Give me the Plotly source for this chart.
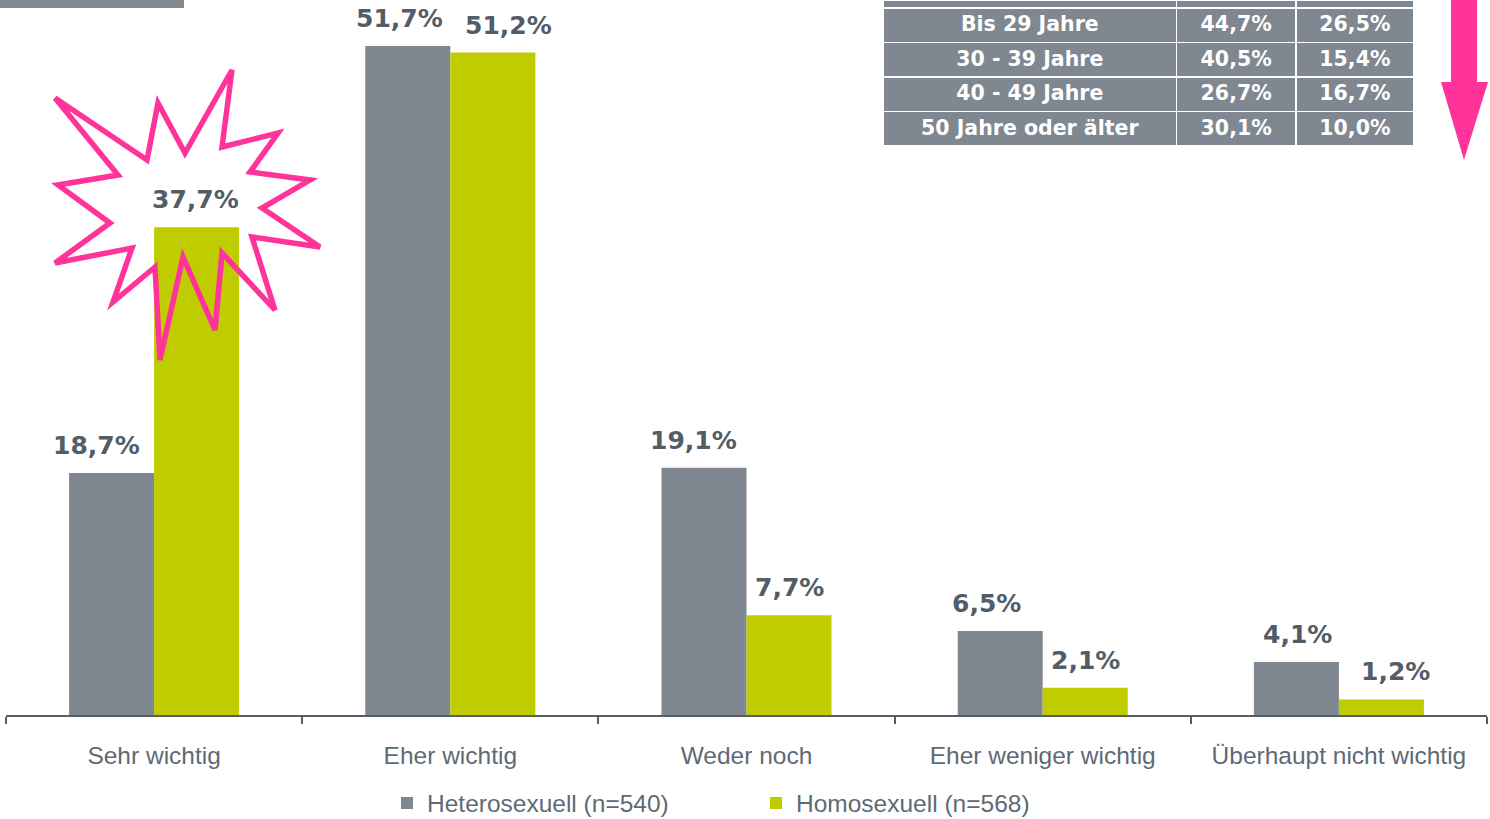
import plotly.graph_objects as go

# ---------------- data ----------------
categories = ["Sehr wichtig", "Eher wichtig", "Weder noch",
              "Eher weniger wichtig", "Überhaupt nicht wichtig"]
hetero = [18.7, 51.7, 19.1, 6.5, 4.1]
homo = [37.7, 51.2, 7.7, 2.1, 1.2]
series_names = ["Heterosexuell (n=540)", "Homosexuell (n=568)"]

age_groups = ["Bis 29 Jahre", "30 - 39 Jahre", "40 - 49 Jahre", "50 Jahre oder älter"]
age_hetero = [44.7, 40.5, 26.7, 30.1]
age_homo = [26.5, 15.4, 16.7, 10.0]

# ---------------- style ----------------
GRAY = "#7f8790"
GREEN = "#bfcc00"
PINK = "#ff3399"
AXIS = "#555f69"
LABEL = "#535d67"
TEXT = "#5f6a75"

# small horizontal nudges of value labels (pixels), as in the original layout
nudge_hetero = [-16, -9, -11, -14, 1]
nudge_homo = [-1, 16, 1, 1, 15]

W, H = 1490, 819
ML, MR, MT, MB = 6, 3, 0, 104
PW, PH = W - ML - MR, H - MT - MB
YMAX = 55.26


def fmt(v):
    return f"{v:.1f}%".replace(".", ",")


def px(x):
    return (x - ML) / PW


def py(y):
    return (PH + MT - y) / PH


fig = go.Figure()
for name, vals, col in [(series_names[0], hetero, GRAY), (series_names[1], homo, GREEN)]:
    fig.add_trace(go.Bar(x=categories, y=vals, name=name, marker_color=col,
                         marker_line_width=0, hoverinfo="skip"))

# value labels
annotations = []
for vals, shift, nudges in [(hetero, -42, nudge_hetero), (homo, 42, nudge_homo)]:
    for c, v, n in zip(categories, vals, nudges):
        annotations.append(dict(x=c, y=v, xref="x", yref="y", text=fmt(v),
                                showarrow=False, xshift=shift + n, yshift=11,
                                yanchor="bottom",
                                font=dict(family="DejaVu Sans", size=25,
                                          color=LABEL, weight="bold")))

# table
fig.add_trace(go.Table(
    domain=dict(x=[px(883), px(1414)], y=[py(150), 1]),
    columnwidth=[293, 119, 118],
    header=dict(values=["", "", ""], height=8, fill_color=GRAY,
                line=dict(color="white", width=1.5)),
    cells=dict(values=[age_groups, [fmt(v) for v in age_hetero], [fmt(v) for v in age_homo]],
               height=34.5, fill_color=GRAY, align="center",
               line=dict(color="white", width=1.5),
               font=dict(family="DejaVu Sans", size=20.5, color="white", weight="bold")),
))

shapes = []
# top-left bar fragment
shapes.append(dict(type="rect", xref="paper", yref="paper", x0=px(0), x1=px(184),
                   y0=py(8), y1=py(-2), fillcolor="#808890", line_width=0, layer="above"))

# pink arrow
arrow_pts = [(1451, -2), (1477, -2), (1477, 82), (1488, 82), (1464, 160), (1441, 82), (1451, 82)]
path = "M " + " L ".join(f"{px(x):.5f},{py(y):.5f}" for x, y in arrow_pts) + " Z"
shapes.append(dict(type="path", xref="paper", yref="paper", path=path,
                   fillcolor=PINK, line_width=0, layer="above"))

# starburst
star_pts = [(55, 98), (147, 160), (158, 103), (185, 153), (232, 70), (222, 147),
            (278, 133), (250, 172), (310, 180), (262, 208), (320, 247), (252, 237),
            (275, 310), (222, 253), (215, 330), (183, 257), (160, 360), (155, 267),
            (113, 302), (132, 248), (55, 263), (110, 223), (58, 185), (118, 175)]
path = "M " + " L ".join(f"{px(x):.5f},{py(y):.5f}" for x, y in star_pts) + " Z"
shapes.append(dict(type="path", xref="paper", yref="paper", path=path,
                   fillcolor="rgba(0,0,0,0)", line=dict(color=PINK, width=5.5),
                   layer="above"))

fig.update_layout(
    width=W, height=H,
    margin=dict(l=ML, r=MR, t=MT, b=MB, pad=0, autoexpand=False),
    plot_bgcolor="white", paper_bgcolor="white",
    barmode="group", bargap=0.426, bargroupgap=0,
    showlegend=True,
    legend=dict(orientation="h", x=px(387), xanchor="left", y=py(803), yanchor="middle",
                font=dict(family="Liberation Sans", size=24.5, color=TEXT),
                entrywidth=324, entrywidthmode="pixels", itemwidth=30,
                bgcolor="rgba(0,0,0,0)"),
    xaxis=dict(type="category", tickson="boundaries", ticks="outside", ticklen=7,
               tickwidth=2, tickcolor=AXIS, showline=True, linecolor=AXIS, linewidth=2,
               showgrid=False, ticklabelstandoff=18,
               tickfont=dict(family="Liberation Sans", size=24.5, color=TEXT),
               range=[-0.5, 4.5]),
    yaxis=dict(range=[0, YMAX], visible=False, showgrid=False, zeroline=False),
    annotations=annotations,
    shapes=shapes,
)

fig.write_html("out.html", config={"displayModeBar": False},
               post_script="document.body.style.margin='0';")
